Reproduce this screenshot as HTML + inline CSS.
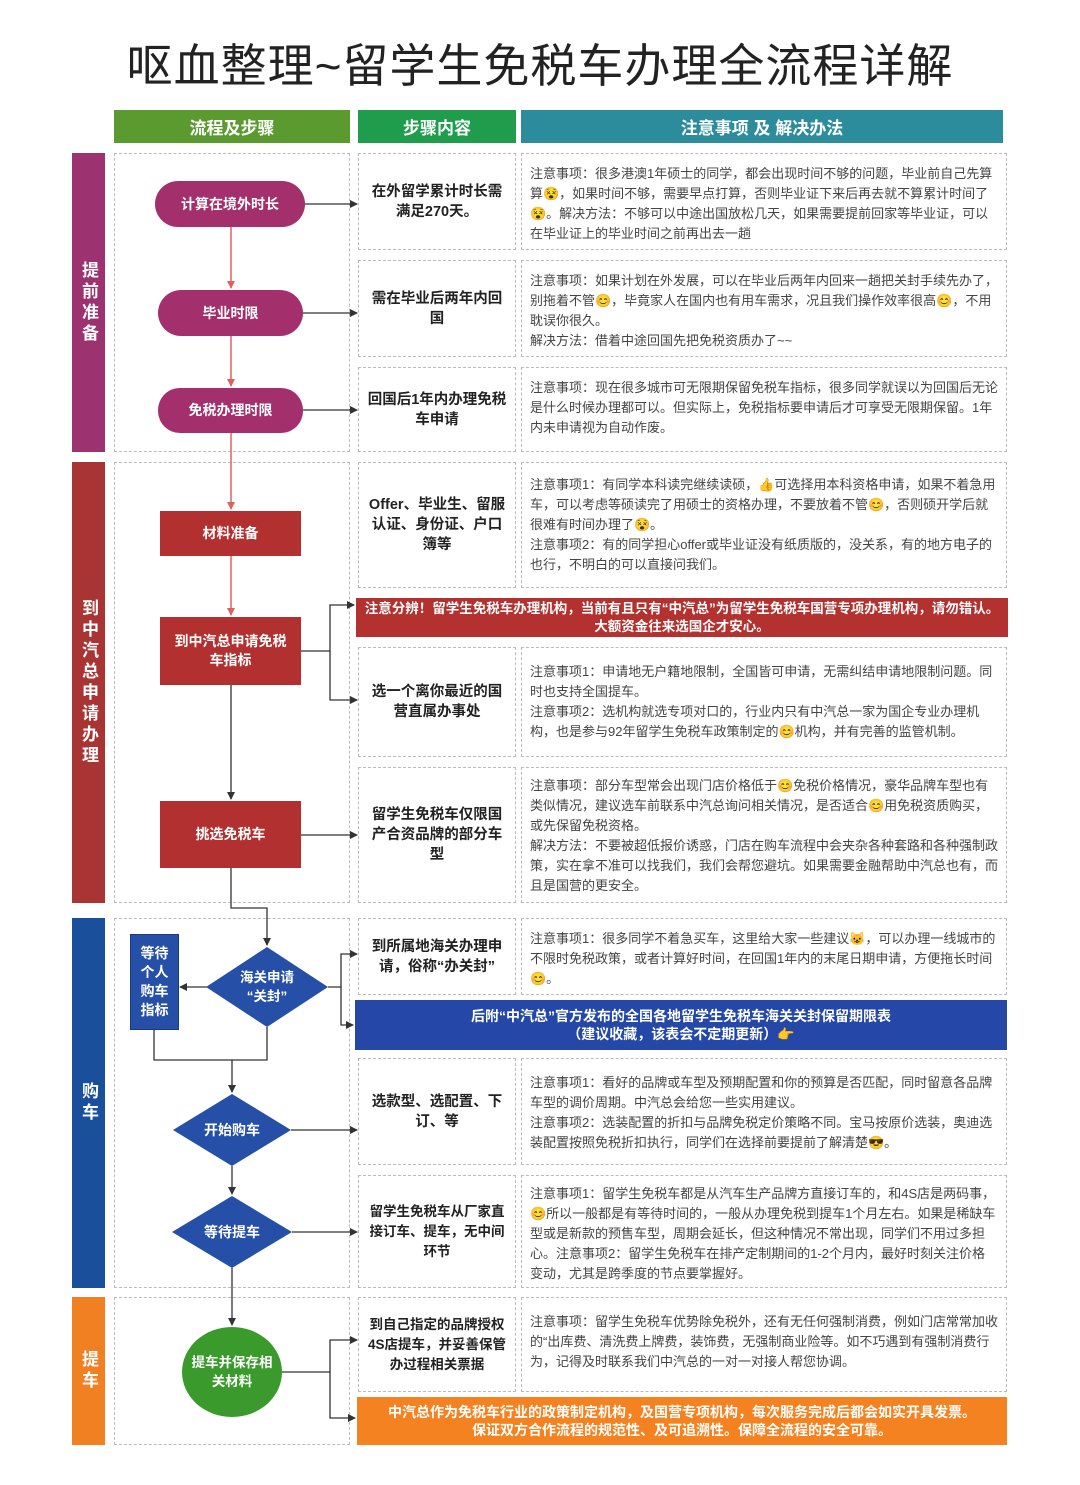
<!DOCTYPE html><html><head><meta charset="utf-8"><style>
body{margin:0;width:1080px;height:1485px;background:#fff;position:relative;font-family:"Liberation Sans","Noto Sans CJK SC",sans-serif;overflow:hidden}
.a{position:absolute;box-sizing:border-box}
.d{border:1px dashed #bbb}
.h{color:#fff;font-weight:bold;font-size:17px;display:flex;align-items:center;justify-content:center}
.s{color:#fff;font-weight:bold;font-size:17px;display:flex;align-items:center;justify-content:center;writing-mode:vertical-rl;letter-spacing:4px}
.c2{display:flex;align-items:center;justify-content:center;text-align:center;font-weight:bold;font-size:14.5px;color:#222;line-height:20px;padding:0 6px}
.c3{font-size:13px;color:#444;line-height:20px;padding:10px 8px 0 8px}
.n{color:#fff;font-weight:bold;font-size:14px;display:flex;align-items:center;justify-content:center;text-align:center;line-height:19px}
.b{color:#fff;font-weight:bold;font-size:13.5px;display:flex;align-items:center;justify-content:center;text-align:center;line-height:18px}
</style></head><body>
<div class="a" style="left:0;top:30px;width:1080px;text-align:center;font-size:46px;color:#222;letter-spacing:1px">呕血整理~留学生免税车办理全流程详解</div>
<div class="a h" style="left:114px;top:110px;width:236px;height:33px;background:#5b9a2f">流程及步骤</div>
<div class="a h" style="left:358px;top:110px;width:158px;height:33px;background:#1f9d4c">步骤内容</div>
<div class="a h" style="left:521px;top:110px;width:482px;height:33px;background:#2d8c9c">注意事项 及 解决办法</div>
<div class="a s" style="left:72px;top:153px;width:33px;height:299px;background:#9c3370">提前准备</div>
<div class="a s" style="left:72px;top:462px;width:33px;height:441px;background:#a83434">到中汽总申请办理</div>
<div class="a s" style="left:72px;top:918px;width:33px;height:370px;background:#1a4f9c">购车</div>
<div class="a s" style="left:72px;top:1297px;width:33px;height:148px;background:#f08022">提车</div>
<div class="a d" style="left:114px;top:153px;width:236px;height:299px"></div>
<div class="a d" style="left:114px;top:462px;width:236px;height:441px"></div>
<div class="a d" style="left:114px;top:918px;width:236px;height:370px"></div>
<div class="a d" style="left:114px;top:1297px;width:236px;height:148px"></div>

<div class="a d c2" style="left:358px;top:153px;width:158px;height:97px">在外留学累计时长需满足270天。</div>
<div class="a d c3" style="left:521px;top:153px;width:486px;height:97px">注意事项：很多港澳1年硕士的同学，都会出现时间不够的问题，毕业前自己先算算😵，如果时间不够，需要早点打算，否则毕业证下来后再去就不算累计时间了😵。解决方法：不够可以中途出国放松几天，如果需要提前回家等毕业证，可以在毕业证上的毕业时间之前再出去一趟</div>
<div class="a d c2" style="left:358px;top:260px;width:158px;height:97px">需在毕业后两年内回国</div>
<div class="a d c3" style="left:521px;top:260px;width:486px;height:97px">注意事项：如果计划在外发展，可以在毕业后两年内回来一趟把关封手续先办了，别拖着不管😊，毕竟家人在国内也有用车需求，况且我们操作效率很高😊，不用耽误你很久。<br>解决方法：借着中途回国先把免税资质办了~~</div>
<div class="a d c2" style="left:358px;top:367px;width:158px;height:85px">回国后1年内办理免税车申请</div>
<div class="a d c3" style="left:521px;top:367px;width:486px;height:85px">注意事项：现在很多城市可无限期保留免税车指标，很多同学就误以为回国后无论是什么时候办理都可以。但实际上，免税指标要申请后才可享受无限期保留。1年内未申请视为自动作废。</div>
<div class="a d c2" style="left:358px;top:462px;width:158px;height:126px">Offer、毕业生、留服认证、身份证、户口簿等</div>
<div class="a d c3" style="left:521px;top:462px;width:486px;height:126px;padding-top:12px">注意事项1：有同学本科读完继续读硕，👍可选择用本科资格申请，如果不着急用车，可以考虑等硕读完了用硕士的资格办理，不要放着不管😊，否则硕开学后就很难有时间办理了😵。<br>注意事项2：有的同学担心offer或毕业证没有纸质版的，没关系，有的地方电子的也行，不明白的可以直接问我们。</div>
<div class="a b" style="left:356px;top:598px;width:652px;height:39px;background:#b3312f">注意分辨！留学生免税车办理机构，当前有且只有“中汽总”为留学生免税车国营专项办理机构，请勿错认。<br>大额资金往来选国企才安心。</div>
<div class="a d c2" style="left:358px;top:647px;width:158px;height:110px">选一个离你最近的国营直属办事处</div>
<div class="a d c3" style="left:521px;top:647px;width:486px;height:110px;padding-top:14px">注意事项1：申请地无户籍地限制，全国皆可申请，无需纠结申请地限制问题。同时也支持全国提车。<br>注意事项2：选机构就选专项对口的，行业内只有中汽总一家为国企专业办理机构，也是参与92年留学生免税车政策制定的😊机构，并有完善的监管机制。</div>
<div class="a d c2" style="left:358px;top:767px;width:158px;height:136px">留学生免税车仅限国产合资品牌的部分车型</div>
<div class="a d c3" style="left:521px;top:767px;width:486px;height:136px;padding-top:8px">注意事项：部分车型常会出现门店价格低于😊免税价格情况，豪华品牌车型也有类似情况，建议选车前联系中汽总询问相关情况，是否适合😊用免税资质购买，或先保留免税资格。<br>解决方法：不要被超低报价诱惑，门店在购车流程中会夹杂各种套路和各种强制政策，实在拿不准可以找我们，我们会帮您避坑。如果需要金融帮助中汽总也有，而且是国营的更安全。</div>
<div class="a d c2" style="left:358px;top:918px;width:158px;height:77px">到所属地海关办理申请，俗称“办关封”</div>
<div class="a d c3" style="left:521px;top:918px;width:486px;height:77px">注意事项1：很多同学不着急买车，这里给大家一些建议😺，可以办理一线城市的不限时免税政策，或者计算好时间，在回国1年内的末尾日期申请，方便拖长时间😊。</div>
<div class="a b" style="left:355px;top:1000px;width:652px;height:50px;background:#2447a8;font-size:14px">后附“中汽总”官方发布的全国各地留学生免税车海关关封保留期限表<br>（建议收藏，该表会不定期更新）👉</div>
<div class="a d c2" style="left:358px;top:1058px;width:158px;height:107px">选款型、选配置、下订、等</div>
<div class="a d c3" style="left:521px;top:1058px;width:486px;height:107px;padding-top:14px">注意事项1：看好的品牌或车型及预期配置和你的预算是否匹配，同时留意各品牌车型的调价周期。中汽总会给您一些实用建议。<br>注意事项2：选装配置的折扣与品牌免税定价策略不同。宝马按原价选装，奥迪选装配置按照免税折扣执行，同学们在选择前要提前了解清楚😎。</div>
<div class="a d c2" style="left:358px;top:1175px;width:158px;height:113px;font-size:13.5px">留学生免税车从厂家直接订车、提车，无中间环节</div>
<div class="a d c3" style="left:521px;top:1175px;width:486px;height:113px;padding-top:8px">注意事项1：留学生免税车都是从汽车生产品牌方直接订车的，和4S店是两码事，😊所以一般都是有等待时间的，一般从办理免税到提车1个月左右。如果是稀缺车型或是新款的预售车型，周期会延长，但这种情况不常出现，同学们不用过多担心。注意事项2：留学生免税车在排产定制期间的1-2个月内，最好时刻关注价格变动，尤其是跨季度的节点要掌握好。</div>
<div class="a d c2" style="left:358px;top:1297px;width:158px;height:95px;font-size:13.5px">到自己指定的品牌授权4S店提车，并妥善保管办过程相关票据</div>
<div class="a d c3" style="left:521px;top:1297px;width:486px;height:95px;padding-top:14px">注意事项：留学生免税车优势除免税外，还有无任何强制消费，例如门店常常加收的“出库费、清洗费上牌费，装饰费，无强制商业险等。如不巧遇到有强制消费行为，记得及时联系我们中汽总的一对一对接人帮您协调。</div>
<div class="a b" style="left:357px;top:1397px;width:650px;height:48px;background:#f58220;font-size:14px">中汽总作为免税车行业的政策制定机构，及国营专项机构，每次服务完成后都会如实开具发票。<br>保证双方合作流程的规范性、及可追溯性。保障全流程的安全可靠。</div>

<svg class="a" style="left:0;top:0" width="1080" height="1485">
<defs><marker id="k" markerWidth="8" markerHeight="8" refX="7" refY="4" orient="auto" markerUnits="userSpaceOnUse"><path d="M0,0L8,4L0,8z" fill="#333"/></marker>
<marker id="r" markerWidth="8" markerHeight="8" refX="7" refY="4" orient="auto" markerUnits="userSpaceOnUse"><path d="M0,0L8,4L0,8z" fill="#e06060"/></marker></defs>
<g stroke="#e06060" stroke-width="1.5" fill="none">
<line x1="231" y1="227" x2="231" y2="288" marker-end="url(#r)"/>
<line x1="231" y1="336" x2="231" y2="386" marker-end="url(#r)"/>
<line x1="231" y1="433" x2="231" y2="509" marker-end="url(#r)"/>
<line x1="231" y1="556" x2="231" y2="615" marker-end="url(#r)"/>
</g>
<g stroke="#333" stroke-width="1.3" fill="none">
<line x1="305" y1="204" x2="357" y2="204" marker-end="url(#k)"/>
<line x1="303" y1="313" x2="357" y2="313" marker-end="url(#k)"/>
<line x1="303" y1="410" x2="357" y2="410" marker-end="url(#k)"/>
<polyline points="301,651 330,651 330,605 354,605" marker-end="url(#k)"/>
<polyline points="330,651 330,700 357,700" marker-end="url(#k)"/>
<line x1="231" y1="685" x2="231" y2="799" marker-end="url(#k)"/>
<line x1="301" y1="835" x2="357" y2="835" marker-end="url(#k)"/>
<polyline points="231,868 231,908 267,908 267,945" marker-end="url(#k)"/>
<line x1="207" y1="987" x2="180" y2="987" marker-end="url(#k)"/>
<polyline points="328,987 341,987 341,954 357,954" marker-end="url(#k)"/>
<polyline points="341,987 341,1025 353,1025" marker-end="url(#k)"/>
<polyline points="154,1030 154,1060 267,1060 267,1027"/>
<line x1="232" y1="1060" x2="232" y2="1092" marker-end="url(#k)"/>
<line x1="291" y1="1130" x2="357" y2="1130" marker-end="url(#k)"/>
<line x1="232" y1="1166" x2="232" y2="1194" marker-end="url(#k)"/>
<line x1="292" y1="1232" x2="357" y2="1232" marker-end="url(#k)"/>
<line x1="232" y1="1268" x2="232" y2="1325" marker-end="url(#k)"/>
<polyline points="282,1372 330,1372 330,1340 357,1340" marker-end="url(#k)"/>
<polyline points="330,1372 330,1418 355,1418" marker-end="url(#k)"/>
</g>
<polygon points="267,947 328,987 267,1027 206,987" fill="#2650a8"/>
<polygon points="232,1094 291,1130 232,1166 173,1130" fill="#2650a8"/>
<polygon points="232,1196 292,1232 232,1268 172,1232" fill="#2650a8"/>
<ellipse cx="232" cy="1372" rx="50" ry="45" fill="#3a9a2c"/>
</svg>
<div class="a n" style="left:155px;top:181px;width:150px;height:46px;border-radius:23px;background:#a3306c">计算在境外时长</div>
<div class="a n" style="left:158px;top:290px;width:145px;height:46px;border-radius:23px;background:#a3306c">毕业时限</div>
<div class="a n" style="left:158px;top:388px;width:145px;height:45px;border-radius:22px;background:#a3306c">免税办理时限</div>
<div class="a n" style="left:160px;top:511px;width:141px;height:45px;background:#b2302f">材料准备</div>
<div class="a n" style="left:160px;top:617px;width:141px;height:68px;background:#b2302f">到中汽总申请免税<br>车指标</div>
<div class="a n" style="left:160px;top:801px;width:141px;height:67px;background:#b2302f">挑选免税车</div>
<div class="a n" style="left:130px;top:934px;width:49px;height:96px;background:#2650a8;border:1px solid #1a3a80;font-size:14px">等待<br>个人<br>购车<br>指标</div>
<div class="a n" style="left:212px;top:967px;width:110px;height:40px;font-size:13.5px">海关申请<br>“关封”</div>
<div class="a n" style="left:182px;top:1120px;width:100px;height:20px">开始购车</div>
<div class="a n" style="left:182px;top:1222px;width:100px;height:20px">等待提车</div>
<div class="a n" style="left:182px;top:1352px;width:100px;height:40px;font-size:13.5px">提车并保存相<br>关材料</div>
</body></html>
